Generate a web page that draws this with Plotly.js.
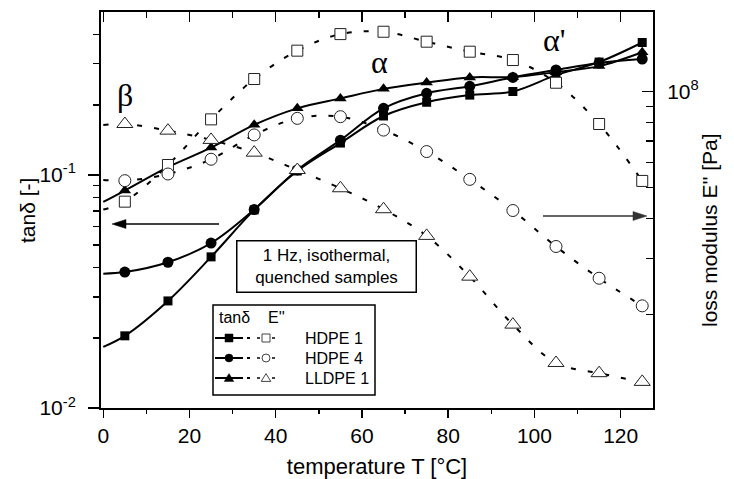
<!DOCTYPE html>
<html>
<head>
<meta charset="utf-8">
<script src="https://cdn.plot.ly/plotly-3.0.1.min.js"></script>
<style>html,body{margin:0;padding:0;background:#fff;}#chart{width:734px;height:479px;}</style>
</head>
<body>
<div id="chart"></div>
<script>
// ---- data ----
const temperature = [5, 15, 25, 35, 45, 55, 65, 75, 85, 95, 105, 115, 125];
const sampleNames = ['HDPE 1', 'HDPE 4', 'LLDPE 1'];
// tan delta (left axis), filled symbols
const tanHDPE1  = [0.0204, 0.0288, 0.0445, 0.0708, 0.104, 0.137, 0.179, 0.205, 0.220, 0.228, 0.268, 0.305, 0.370];
const tanHDPE4  = [0.0383, 0.0422, 0.0510, 0.0710, 0.105, 0.141, 0.193, 0.224, 0.240, 0.262, 0.282, 0.302, 0.314];
const tanLLDPE1 = [0.0857, 0.108, 0.131, 0.164, 0.193, 0.213, 0.234, 0.249, 0.262, 0.263, 0.276, 0.293, 0.336];
// loss modulus E'' [Pa] (right axis), open symbols
const eHDPE1  = [4.52e7, 5.89e7, 8.19e7, 1.096e8, 1.345e8, 1.516e8, 1.542e8, 1.435e8, 1.335e8, 1.257e8, 1.067e8, 7.92e7, 5.25e7];
const eHDPE4  = [5.26e7, 5.52e7, 6.14e7, 7.32e7, 8.25e7, 8.35e7, 7.58e7, 6.49e7, 5.31e7, 4.24e7, 3.27e7, 2.60e7, 2.13e7];
const eLLDPE1 = [7.92e7, 7.55e7, 7.06e7, 6.44e7, 5.68e7, 4.98e7, 4.28e7, 3.53e7, 2.63e7, 1.86e7, 1.41e7, 1.31e7, 1.23e7];
// fitted curves start at T = 0 (read at the left edge)
const fitStartT = 0;
const tanFitStart = [0.0183, 0.0377, 0.0766];
const eFitStart = [4.27e7, 5.29e7, 7.86e7];
// axis ticks
const xTicks = [0, 20, 40, 60, 80, 100, 120];
const xMinorTicks = [10, 30, 50, 70, 90, 110];
const tanMinorTicks = [0.02, 0.03, 0.04, 0.05, 0.06, 0.07, 0.08, 0.09, 0.2, 0.3, 0.4];
const eMinorTicks = [2e7, 3e7, 4e7, 5e7, 6e7, 7e7, 8e7, 9e7];

// ---- layout helpers ----
const W = 734, H = 479;
const L = 101, R = 653, TOP = 12, BOT = 408;
const px = x => (x - L) / (R - L);
const py = y => (BOT - y) / (BOT - TOP);
const FONT = 'Liberation Sans, Arial, sans-serif';
const SERIF = 'Liberation Serif, Times New Roman, serif';

const tanSeries = [tanHDPE1, tanHDPE4, tanLLDPE1];
const eSeries = [eHDPE1, eHDPE4, eLLDPE1];
const filledSym = ['square', 'circle', 'triangle-up'];
const openSym = ['square', 'circle', 'triangle-up'];
const filledSize = [9, 11, 11];
const openSize = [11, 12, 14];
const dotted = '5px,12px';

const traces = [];
// E'' (dotted, open symbols) on right axis
eSeries.forEach((s, i) => {
  traces.push({
    x: [fitStartT].concat(temperature), y: [eFitStart[i]].concat(s),
    xaxis: 'x2', yaxis: 'y2', mode: 'lines', type: 'scatter',
    line: {color: '#000', width: 2, dash: dotted, shape: 'spline', smoothing: 1},
    hoverinfo: 'skip', showlegend: false
  });
});
eSeries.forEach((s, i) => {
  traces.push({
    x: temperature, y: s, xaxis: 'x2', yaxis: 'y2', mode: 'markers', type: 'scatter',
    name: "E'' " + sampleNames[i],
    marker: {symbol: openSym[i], size: openSize[i], color: '#fff', line: {color: '#222', width: 1}},
    showlegend: false
  });
});
// tan delta (solid, filled symbols) on left axis
tanSeries.forEach((s, i) => {
  traces.push({
    x: [fitStartT].concat(temperature), y: [tanFitStart[i]].concat(s),
    xaxis: 'x', yaxis: 'y', mode: 'lines', type: 'scatter',
    line: {color: '#000', width: 2, shape: 'spline', smoothing: 1},
    hoverinfo: 'skip', showlegend: false
  });
  traces.push({
    x: temperature, y: s, xaxis: 'x', yaxis: 'y', mode: 'markers', type: 'scatter',
    name: 'tanδ ' + sampleNames[i],
    marker: {symbol: filledSym[i], size: filledSize[i], color: '#000'},
    showlegend: false
  });
});

// ---- manual legend (shapes + text) ----
const shapes = [];
const annotations = [];
shapes.push({type: 'rect', xref: 'paper', yref: 'paper', x0: px(213), x1: px(375), y0: py(305), y1: py(395),
  line: {color: '#000', width: 1.5}, fillcolor: '#fff', layer: 'above'});
const legFont = {family: FONT, size: 16, color: '#000'};
annotations.push({xref: 'paper', yref: 'paper', x: px(217), y: py(317), text: 'tanδ', showarrow: false,
  xanchor: 'left', yanchor: 'middle', font: legFont});
annotations.push({xref: 'paper', yref: 'paper', x: px(266), y: py(317), text: "E''", showarrow: false,
  xanchor: 'left', yanchor: 'middle', font: legFont});
function seg(x0, x1, y, w, c) {
  shapes.push({type: 'line', xref: 'paper', yref: 'paper', x0: px(x0), x1: px(x1), y0: py(y), y1: py(y),
    line: {color: c || '#000', width: w}, layer: 'above'});
}
function tri(cx, cy, r, fill, lc, lw) {
  const p = (a, b) => px(a) + ',' + py(b);
  shapes.push({type: 'path', xref: 'paper', yref: 'paper', layer: 'above',
    path: 'M' + p(cx - r - 0.8, cy + r * 0.85) + ' L' + p(cx + r + 0.8, cy + r * 0.85) + ' L' + p(cx, cy - r * 1.1) + ' Z',
    fillcolor: fill, line: {color: lc, width: lw}});
}
function sym(kind, cx, cy, r, filled) {
  const fill = filled ? '#000' : '#fff', lc = filled ? '#000' : '#444', lw = filled ? 0.5 : 1;
  if (kind === 2) { tri(cx, cy, r, fill, lc, lw); return; }
  shapes.push({xref: 'paper', yref: 'paper', layer: 'above', type: kind === 0 ? 'rect' : 'circle',
    x0: px(cx - r), x1: px(cx + r), y0: py(cy + r), y1: py(cy - r), fillcolor: fill, line: {color: lc, width: lw}});
}
sampleNames.forEach((nm, i) => {
  const y = 338 + 20 * i;
  seg(215, 243, y, 2);
  seg(247, 250, y, 2);
  sym(i, 229, y, 4, true);
  seg(257, 260, y, 1.5);
  seg(272, 275, y, 1.5);
  sym(i, 266, y, 4, false);
  annotations.push({xref: 'paper', yref: 'paper', x: px(303), y: py(y), text: nm, showarrow: false,
    xanchor: 'left', yanchor: 'middle', font: legFont});
});

// ---- arrows pointing to the axes (drawn as shapes) ----
seg(120, 219, 224, 1.3, '#000');
(function () {
  const p = (a, b) => px(a) + ',' + py(b);
  shapes.push({type: 'path', xref: 'paper', yref: 'paper', layer: 'above',
    path: 'M' + p(112, 224) + ' L' + p(126, 219.5) + ' L' + p(126, 228.5) + ' Z', fillcolor: '#000', line: {color: '#000', width: 0.5}});
  shapes.push({type: 'path', xref: 'paper', yref: 'paper', layer: 'above',
    path: 'M' + p(647, 216) + ' L' + p(633, 211.5) + ' L' + p(633, 220.5) + ' Z', fillcolor: '#333', line: {color: '#333', width: 0.5}});
})();
seg(543, 636, 216, 1.5, '#333');

// ---- text annotations ----
annotations.push({xref: 'paper', yref: 'paper', x: px(326), y: py(266), text: '1 Hz, isothermal,<br>quenched samples',
  showarrow: false, xanchor: 'center', yanchor: 'middle', font: {family: FONT, size: 17, color: '#000'},
  bordercolor: '#000', borderwidth: 1.5, borderpad: 3, bgcolor: '#fff', width: 172, height: 44});
annotations.push({xref: 'paper', yref: 'paper', x: px(125), y: py(95), text: 'β', showarrow: false,
  xanchor: 'center', yanchor: 'middle', font: {family: SERIF, size: 32, color: '#000'}});
annotations.push({xref: 'paper', yref: 'paper', x: px(379), y: py(62), text: 'α', showarrow: false,
  xanchor: 'center', yanchor: 'middle', font: {family: SERIF, size: 32, color: '#000'}});
annotations.push({xref: 'paper', yref: 'paper', x: px(554), y: py(40), text: "α'", showarrow: false,
  xanchor: 'center', yanchor: 'middle', font: {family: SERIF, size: 32, color: '#000'}});
// axis titles for the two y axes, placed as rotated text
annotations.push({xref: 'paper', yref: 'paper', x: px(27), y: py(211), text: 'tanδ [-]', showarrow: false,
  textangle: -90, xanchor: 'center', yanchor: 'middle', font: {family: FONT, size: 21, color: '#000'}});
annotations.push({xref: 'paper', yref: 'paper', x: px(709), y: py(230), text: "loss modulus E'' [Pa]", showarrow: false,
  textangle: -90, xanchor: 'center', yanchor: 'middle', font: {family: FONT, size: 21, color: '#000'}});

const tickFont = {family: FONT, size: 21, color: '#000'};
const layout = {
  width: W, height: H,
  margin: {l: L, r: W - R, t: TOP, b: H - BOT, pad: 0},
  paper_bgcolor: '#fff', plot_bgcolor: '#fff',
  showlegend: false,
  xaxis: {
    range: [-0.53, 127.5], showgrid: false, zeroline: false,
    showline: true, linecolor: '#000', linewidth: 2,
    tickmode: 'array', tickvals: xTicks, ticks: 'outside', ticklen: 8, tickwidth: 1.5, tickcolor: '#000',
    minor: {tickmode: 'array', tickvals: xMinorTicks, ticks: 'outside', ticklen: 4, tickwidth: 1.5, tickcolor: '#000'},
    tickfont: tickFont,
    title: {text: 'temperature T [°C]', font: {family: FONT, size: 22, color: '#000'}},
    automargin: false
  },
  xaxis2: {
    overlaying: 'x', side: 'top', anchor: 'y',
    range: [-0.53, 127.5], showgrid: false, zeroline: false,
    showline: true, linecolor: '#000', linewidth: 2,
    tickmode: 'array', tickvals: xTicks, ticks: 'inside', ticklen: 10, tickwidth: 1.5, tickcolor: '#000',
    minor: {tickmode: 'array', tickvals: xMinorTicks, ticks: 'inside', ticklen: 6, tickwidth: 1.5, tickcolor: '#000'},
    showticklabels: false, automargin: false
  },
  yaxis: {
    type: 'log', range: [-2, -0.301], showgrid: false, zeroline: false,
    showline: true, linecolor: '#000', linewidth: 2,
    tickmode: 'array', tickvals: [0.01, 0.1], ticktext: ['10<sup>-2</sup>', '10<sup>-1</sup>'],
    ticks: 'outside', ticklen: 11, tickwidth: 1.5, tickcolor: '#000',
    minor: {tickmode: 'array', tickvals: tanMinorTicks, ticks: 'outside', ticklen: 6, tickwidth: 1.5, tickcolor: '#000'},
    tickfont: tickFont, ticklabelstandoff: 8,
    automargin: false
  },
  yaxis2: {
    type: 'log', range: [7.008, 8.25], overlaying: 'y', side: 'right', anchor: 'x2',
    showgrid: false, zeroline: false,
    showline: true, linecolor: '#000', linewidth: 2,
    tickmode: 'array', tickvals: [1e8], ticktext: ['10<sup>8</sup>'],
    ticks: 'inside', ticklen: 11, tickwidth: 1.5, tickcolor: '#000',
    minor: {tickmode: 'array', tickvals: eMinorTicks, ticks: 'inside', ticklen: 7, tickwidth: 1.5, tickcolor: '#000'},
    tickfont: tickFont, ticklabelstandoff: 8,
    automargin: false
  },
  shapes: shapes,
  annotations: annotations
};

Plotly.newPlot('chart', traces, layout, {staticPlot: true, displayModeBar: false});
</script>
</body>
</html>
